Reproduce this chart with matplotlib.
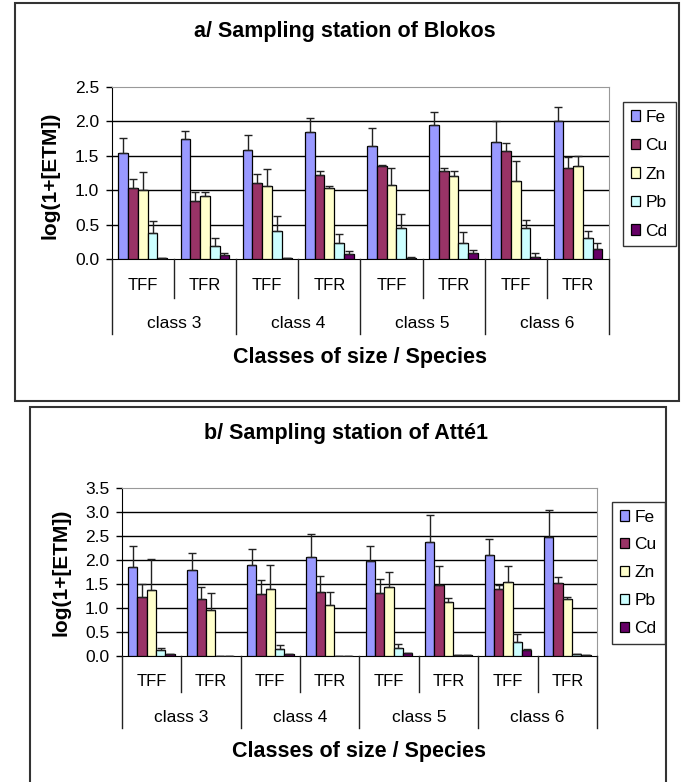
import matplotlib
matplotlib.use("Agg")
import matplotlib.pyplot as plt
from matplotlib.patches import Rectangle
from matplotlib.lines import Line2D
from matplotlib.transforms import blended_transform_factory

plt.rcParams['font.family'] = ['Liberation Sans', 'DejaVu Sans']

W, H = 681, 782

metals = ["Fe", "Cu", "Zn", "Pb", "Cd"]
colors = ["#9999FF", "#993366", "#FFFFCC", "#CCFFFF", "#660066"]
species = ["TFF", "TFR"] * 4
classes = ["class 3", "class 4", "class 5", "class 6"]

# station a/ Blokos : one row per metal, one value per class/species group
blokos = [
    [1.54, 1.74, 1.585, 1.84, 1.64, 1.94, 1.706, 2.00],
    [1.03, 0.85, 1.10, 1.22, 1.35, 1.28, 1.566, 1.32],
    [1.01, 0.91, 1.065, 1.03, 1.08, 1.205, 1.128, 1.345],
    [0.38, 0.19, 0.41, 0.23, 0.45, 0.23, 0.448, 0.313],
    [0.015, 0.058, 0.015, 0.08, 0.024, 0.09, 0.034, 0.154],
]
blokos_err = [
    [0.22, 0.12, 0.215, 0.20, 0.26, 0.20, 0.29, 0.20],
    [0.14, 0.13, 0.14, 0.06, 0.01, 0.04, 0.12, 0.16],
    [0.26, 0.06, 0.24, 0.03, 0.24, 0.08, 0.30, 0.155],
    [0.17, 0.12, 0.21, 0.13, 0.20, 0.16, 0.12, 0.10],
    [0.0, 0.04, 0.0, 0.035, 0.005, 0.045, 0.055, 0.077],
]

# station b/ Atte1
atte = [
    [1.85, 1.79, 1.904, 2.064, 1.987, 2.378, 2.099, 2.48],
    [1.234, 1.178, 1.283, 1.339, 1.31, 1.478, 1.40, 1.513],
    [1.374, 0.948, 1.40, 1.06, 1.43, 1.116, 1.534, 1.18],
    [0.11, 0.0, 0.13, 0.0, 0.167, 0.012, 0.279, 0.04],
    [0.028, 0.0, 0.028, 0.0, 0.056, 0.012, 0.11, 0.025],
]
atte_err = [
    [0.44, 0.365, 0.335, 0.49, 0.30, 0.56, 0.335, 0.57],
    [0.27, 0.25, 0.31, 0.335, 0.29, 0.40, 0.07, 0.14],
    [0.64, 0.37, 0.50, 0.28, 0.31, 0.09, 0.34, 0.054],
    [0.05, 0.0, 0.09, 0.0, 0.08, 0.0, 0.17, 0.0],
    [0.0, 0.0, 0.0, 0.0, 0.0, 0.0, 0.03, 0.0],
]


def fx(x):
    return x / W


def fy(y):
    return 1 - y / H


def panel(fig, box, area, ymax, values, errors, title, ytitle, legbox, ys, lsp):
    # outer frame
    fig.patches.append(Rectangle((fx(box[0]), fy(box[3])), fx(box[2] - box[0]), (box[3] - box[1]) / H,
                                 transform=fig.transFigure, fill=False, ec="#333333", lw=1.5))
    l, t, r, b = area
    ax = fig.add_axes([fx(l), fy(b), fx(r - l), (b - t) / H])

    n = len(species)
    width = 0.157
    for i, m in enumerate(metals):
        xs = [g + 0.5 + (i - 2) * width for g in range(n)]
        ax.bar(xs, values[i], width, color=colors[i], edgecolor="black", linewidth=0.9, label=m, zorder=3)
        ax.errorbar(xs, values[i], yerr=[[0] * n, errors[i]], fmt="none", ecolor="#222222",
                    elinewidth=1.0, capsize=3, capthick=1.0, zorder=4)

    ax.set_xlim(0, n)
    ax.set_ylim(0, ymax)
    ticks = [k * 0.5 for k in range(int(ymax / 0.5) + 1)]
    ax.set_yticks(ticks)
    ax.set_yticklabels(["%.1f" % v for v in ticks], fontsize=12.5)
    for v in ticks[1:-1]:
        ax.axhline(v, color="black", lw=1.0, zorder=1)
    ax.set_xticks([])
    ax.tick_params(axis="y", direction="out", length=4, width=1, pad=5)
    ax.spines["left"].set_color("black")
    ax.spines["bottom"].set_color("black")
    ax.spines["top"].set_color("#999999")
    ax.spines["right"].set_color("#999999")

    # hierarchical category axis
    tr = blended_transform_factory(ax.transData, fig.transFigure)
    for g in range(n + 1):
        low = ys["outer"] if g % 2 == 0 else ys["inner"]
        fig.add_artist(Line2D([g, g], [fy(b), fy(low)], transform=tr, color="#222222", lw=1.0))
    for g, s in enumerate(species):
        fig.text(g + 0.5, fy(ys["sp"]), s, transform=tr, ha="center", va="center", fontsize=12)
    for c, s in enumerate(classes):
        fig.text(2 * c + 1, fy(ys["cl"]), s, transform=tr, ha="center", va="center", fontsize=12.5)

    fig.text(fx(ys["tx"]), fy(ys["title"]), title, ha="center", va="center", fontsize=15.5, fontweight="bold")
    fig.text(fx(ys["xx"]), fy(ys["xlab"]), "Classes of size / Species", ha="center", va="center",
             fontsize=15.5, fontweight="bold")
    fig.text(fx(ytitle[0]), fy(ytitle[1]), "log(1+[ETM])", ha="center", va="center", rotation=90,
             fontsize=15, fontweight="bold")

    leg = ax.legend(loc="upper left", bbox_to_anchor=(fx(legbox[0]), fy(legbox[1])),
                    bbox_transform=fig.transFigure, fontsize=12.5, handlelength=0.55, handleheight=0.55,
                    handletextpad=0.3, labelspacing=lsp, borderpad=0.45, borderaxespad=0,
                    fancybox=False, frameon=True)
    leg.get_frame().set_edgecolor("black")
    leg.get_frame().set_linewidth(1.0)
    return ax


fig = plt.figure(figsize=(W / 100, H / 100), dpi=100)

panel(fig, (15, 3, 679, 401), (111.7, 86.7, 609, 259.3), 2.5, blokos, blokos_err,
      "a/ Sampling station of Blokos", (50, 175), (623, 101.7),
      {"inner": 297.5, "outer": 334, "sp": 286, "cl": 323, "title": 31.7, "tx": 345,
       "xlab": 358, "xx": 360}, 0.78)

panel(fig, (29.6, 406.7, 666, 800), (121.7, 488.3, 597, 655.7), 3.5, atte, atte_err,
      "b/ Sampling station of Atté1", (61, 572), (612, 501.7),
      {"inner": 692, "outer": 728, "sp": 681, "cl": 717, "title": 433.3, "tx": 346,
       "xlab": 751.7, "xx": 359.5}, 0.74)

fig.savefig("out.png", dpi=100)
